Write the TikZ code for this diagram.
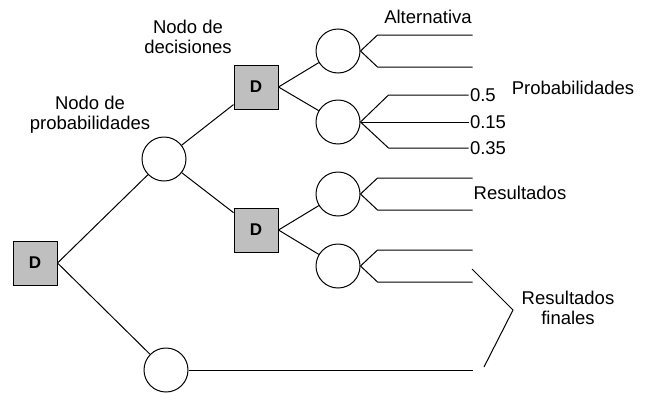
\documentclass[tikz,border=0pt]{standalone}
\usepackage{fontspec}
\setmainfont{Liberation Sans}
\usepackage{xcolor}

\begin{document}
\begin{tikzpicture}[x=1pt, y=-1pt, line width=1pt,
        dnode/.style={draw, fill=black!25, minimum size=44pt, inner sep=0pt, font=\fontsize{17}{20}\selectfont\bfseries},
        pnode/.style={draw, circle, minimum size=44pt, inner sep=0pt},
        lbl/.style={font=\fontsize{18.5}{20}\selectfont, align=center, inner sep=1pt}]
        \useasboundingbox (0,0) rectangle (645,394);

        \node[dnode] (root) at (35, 263) {D};
        \node[pnode] (p1) at (164, 159) {};
        \node[pnode] (p2) at (166, 370) {};
        \node[dnode] (d1) at (256, 87) {D};
        \node[dnode] (d2) at (256, 230) {D};

        \node[pnode] (c1) at (338, 51) {};
        \node[pnode] (c2) at (338, 122) {};
        \node[pnode] (c3) at (338, 194) {};
        \node[pnode] (c4) at (338, 266) {};

        \draw (root.east) -- (p1);
        \draw (root.east) -- (p2);
        \draw (p1) -- (d1);
        \draw (p1) -- (d2);
        \draw (d1.east) -- (c1);
        \draw (d1.east) -- (c2);
        \draw (d2.east) -- (c3);
        \draw (d2.east) -- (c4);

        % two outcomes
        \foreach \c in {c1, c3, c4} {
            \draw (\c.east) -- ++(17,-16) -- ++(95,0);
            \draw (\c.east) -- ++(17,16) -- ++(95,0);
        }

        % three outcomes with probabilities
        \draw (c2.east) -- ++(28,-27) -- ++(80,0) node[lbl, right] {0.5};
        \draw (c2.east) -- ++(108,0) node[lbl, right] {0.15};
        \draw (c2.east) -- ++(28,26) -- ++(80,0) node[lbl, right] {0.35};

        \draw (p2.east) -- ++(284,0) coordinate (fin);

        \draw (472,269) -- (513,310) -- (484,367);

        \node[lbl] (alt) at (428, 17) {Alternativa};
        \node[lbl] (prob) at (573, 88) {Probabilidades};
        \node[lbl] (res) at (520, 193) {Resultados};
        \node[lbl] (resfin) at (568, 308) {Resultados\\finales};
        \node[lbl] (ndec) at (188, 37) {Nodo de\\decisiones};
        \node[lbl] (nprob) at (90, 115) {Nodo de\\probabilidades};
\end{tikzpicture}
\end{document}
